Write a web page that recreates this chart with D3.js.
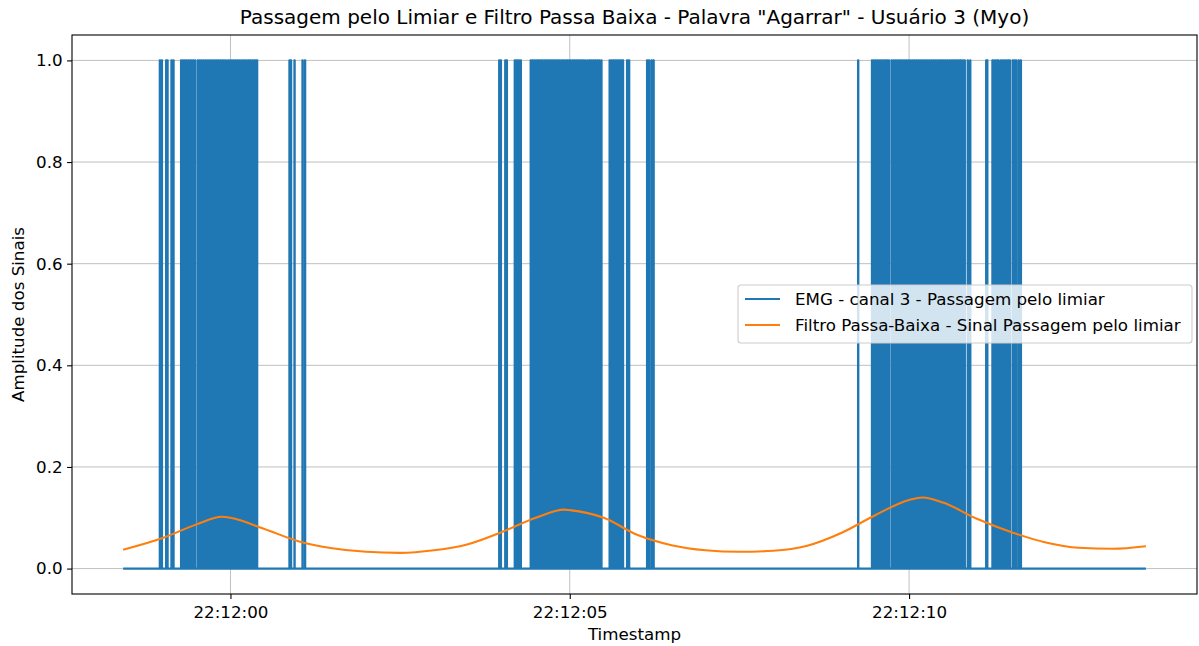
<!DOCTYPE html>
<html>
<head>
<meta charset="utf-8">
<script src="https://cdn.jsdelivr.net/npm/d3@7"></script>
<style>
  html, body { margin: 0; padding: 0; background: #fff; }
  svg { display: block; font-family: "DejaVu Sans", sans-serif; }
</style>
</head>
<body>
<svg id="chart" width="1199" height="646"></svg>
<script>
// Recording window, ms relative to 22:12:00
const recordStartMs = -1581;
const recordEndMs = 13490;
const sampleMs = 5; // Myo EMG @ 200 Hz

// Samples where channel 3 crossed the threshold (ms relative to 22:12:00)
const crossingsGesture1 = [
  -1042, -1013, -949, -930, -871, -842,
  -729, -702, -676, -648, -621, -595, -570, -546, -523,
  -483, -456, -428, -401, -373, -346, -318, -290, -263, -236, -208, -181,
  -153, -126, -98, -70, -37, -10, 18, 45, 73, 100, 128, 155, 183, 210, 238,
  265, 293, 320, 348, 372, 390,
  868, 890, 942, 1060, 1097
];
const crossingsGesture2 = [
  3959, 3982, 4048, 4070,
  4188, 4210, 4232, 4254, 4276,
  4423, 4448, 4473, 4498, 4522,
  4541, 4569, 4597, 4624, 4652, 4680, 4707, 4735, 4763, 4790, 4818, 4846,
  4873, 4901, 4929, 4956, 4984, 5012, 5039, 5067, 5095, 5122, 5150, 5178,
  5205, 5232,
  5266, 5293, 5321, 5348, 5376, 5403, 5431, 5464,
  5586, 5614, 5642, 5670, 5698, 5726, 5754, 5782,
  5843, 5872,
  6138, 6167, 6204, 6233
];
const crossingsGesture3 = [
  9248,
  9452, 9478, 9504, 9530, 9556, 9582, 9608, 9633, 9658,
  9678, 9700,
  9740, 9768, 9796, 9824, 9852, 9880, 9908, 9936, 9964, 9992, 10020, 10048,
  10076, 10104, 10132, 10160, 10188, 10216, 10244, 10272, 10300, 10328,
  10356, 10384, 10412, 10440, 10466, 10487,
  10512, 10538, 10564, 10590, 10616, 10642, 10668, 10694, 10720, 10746, 10762,
  10789, 10818, 10863, 10899,
  11135, 11150,
  11227, 11252, 11277, 11300, 11316,
  11351, 11380, 11410,
  11433, 11458, 11483, 11525, 11550, 11575, 11612, 11645
];

// Low-pass filtered threshold-crossing signal
const lowpassTimeMs = [
  -1581, -1000, -500, -125, 0, 500, 1000, 1500, 2000, 2500, 3000, 3500,
  4000, 4500, 4920, 5000, 5500, 6000, 6500, 7000, 7500, 8000, 8500, 9000,
  9500, 10000, 10200, 10500, 11000, 11500, 12000, 12500, 13000, 13490
];
const lowpassValue = [
  0.037, 0.060, 0.087, 0.102, 0.100, 0.078, 0.054, 0.040, 0.033, 0.031, 0.036, 0.048,
  0.072, 0.100, 0.116, 0.115, 0.100, 0.066, 0.046, 0.036, 0.033, 0.035, 0.045, 0.070,
  0.105, 0.135, 0.140, 0.130, 0.098, 0.072, 0.052, 0.041, 0.039, 0.044
];

const yTicks = [0.0, 0.2, 0.4, 0.6, 0.8, 1.0];
const legendLabels = [
  "EMG - canal 3 - Passagem pelo limiar",
  "Filtro Passa-Baixa - Sinal Passagem pelo limiar"
];
const seriesColors = ["#1f77b4", "#ff7f0e"];
const titleText = 'Passagem pelo Limiar e Filtro Passa Baixa - Palavra "Agarrar" - Usuário 3 (Myo)';

const base = new Date(2024, 0, 1, 22, 12, 0);
const toDate = ms => new Date(base.getTime() + ms);

const svg = d3.select("#chart");
const plot = { left: 72, right: 1197, top: 35, bottom: 594 };
const fontSize = 16.7;

// 5% margins around the data span
const span = recordEndMs - recordStartMs;
const x = d3.scaleTime()
  .domain([toDate(recordStartMs - 0.05 * span), toDate(recordEndMs + 0.05 * span)])
  .range([plot.left, plot.right]);
const y = d3.scaleLinear().domain([-0.05, 1.05]).range([plot.bottom, plot.top]);

// grid
const grid = svg.append("g").attr("stroke", "#b0b0b0").attr("stroke-width", 0.8);
const xTicks = d3.timeSecond.every(5).range(x.domain()[0], x.domain()[1]);
grid.selectAll(".gx").data(xTicks).join("line")
  .attr("x1", d => x(d)).attr("x2", d => x(d))
  .attr("y1", plot.top).attr("y2", plot.bottom);
grid.selectAll(".gy").data(yTicks).join("line")
  .attr("x1", plot.left).attr("x2", plot.right)
  .attr("y1", d => y(d)).attr("y2", d => y(d));

// binary threshold-crossing signal as a step trace
const crossings = [...crossingsGesture1, ...crossingsGesture2, ...crossingsGesture3];
const binaryPts = [[recordStartMs, 0]];
crossings.forEach(t => {
  binaryPts.push([t, 0], [t, 1], [t + sampleMs, 1], [t + sampleMs, 0]);
});
binaryPts.push([recordEndMs, 0]);

svg.append("clipPath").attr("id", "clip")
  .append("rect").attr("x", plot.left).attr("y", plot.top)
  .attr("width", plot.right - plot.left).attr("height", plot.bottom - plot.top);

const lines = svg.append("g").attr("clip-path", "url(#clip)");
lines.append("path")
  .datum(binaryPts)
  .attr("fill", "none")
  .attr("stroke", seriesColors[0])
  .attr("stroke-width", 2.08)
  .attr("stroke-linejoin", "round")
  .attr("d", d3.line().x(d => x(toDate(d[0]))).y(d => y(d[1])));

const lowpass = lowpassTimeMs.map((t, i) => [t, lowpassValue[i]]);
lines.append("path")
  .datum(lowpass)
  .attr("fill", "none")
  .attr("stroke", seriesColors[1])
  .attr("stroke-width", 2.08)
  .attr("stroke-linejoin", "round")
  .attr("d", d3.line().curve(d3.curveMonotoneX)
    .x(d => x(toDate(d[0]))).y(d => y(d[1])));

// axes
const fmt = d3.timeFormat("%H:%M:%S");
const xAxis = svg.append("g")
  .attr("transform", `translate(0,${plot.bottom})`)
  .call(d3.axisBottom(x).tickValues(xTicks).tickFormat(fmt).tickSize(4.9).tickPadding(7));
const yAxis = svg.append("g")
  .attr("transform", `translate(${plot.left},0)`)
  .call(d3.axisLeft(y).tickValues(yTicks).tickFormat(d3.format(".1f")).tickSize(4.9).tickPadding(4.5));
[xAxis, yAxis].forEach(g => {
  g.select(".domain").remove();
  g.selectAll(".tick line").attr("stroke", "#000").attr("stroke-width", 1.1);
  g.selectAll(".tick text").attr("font-size", fontSize).attr("fill", "#000")
    .attr("font-family", "DejaVu Sans, sans-serif");
});

// frame
svg.append("rect")
  .attr("x", plot.left).attr("y", plot.top)
  .attr("width", plot.right - plot.left).attr("height", plot.bottom - plot.top)
  .attr("fill", "none").attr("stroke", "#000").attr("stroke-width", 1.1);

// titles
const cx = (plot.left + plot.right) / 2;
svg.append("text").attr("x", cx).attr("y", 24)
  .attr("text-anchor", "middle").attr("font-size", 20).text(titleText);
svg.append("text").attr("x", cx).attr("y", 640)
  .attr("text-anchor", "middle").attr("font-size", fontSize).text("Timestamp");
svg.append("text")
  .attr("transform", `translate(24,${(plot.top + plot.bottom) / 2}) rotate(-90)`)
  .attr("text-anchor", "middle").attr("font-size", fontSize).text("Amplitude dos Sinais");

// legend
const leg = svg.append("g").attr("transform", "translate(738,285)");
leg.append("rect")
  .attr("x", 0).attr("y", 0).attr("width", 454).attr("height", 58).attr("rx", 3)
  .attr("fill", "#fff").attr("fill-opacity", 0.8)
  .attr("stroke", "#cccccc").attr("stroke-width", 1.1);
legendLabels.forEach((label, i) => {
  const yy = 14 + i * 26;
  leg.append("line")
    .attr("x1", 7).attr("x2", 42).attr("y1", yy).attr("y2", yy)
    .attr("stroke", seriesColors[i]).attr("stroke-width", 2.08);
  leg.append("text").attr("x", 57).attr("y", yy + 6)
    .attr("font-size", fontSize).text(label);
});
</script>
</body>
</html>
